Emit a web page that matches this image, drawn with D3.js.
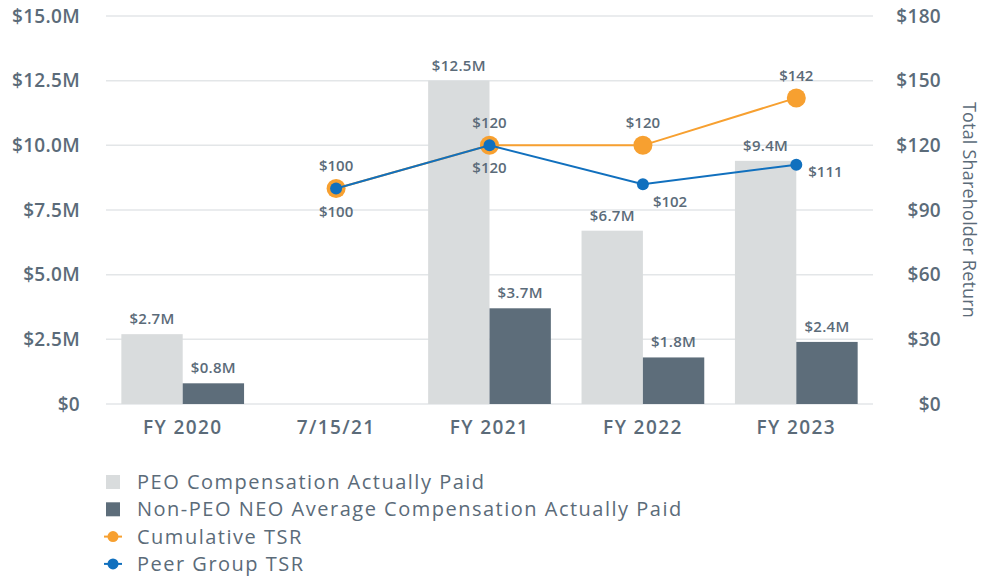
<!DOCTYPE html>
<html>
<head>
<meta charset="utf-8">
<script src="https://cdn.jsdelivr.net/npm/d3@7.9.0/dist/d3.min.js"></script>
<style>
  body { margin: 0; background: #fff; }
  svg text { font-family: "Open Sans", sans-serif; fill: #5b6b79; }
</style>
</head>
<body>
<div id="chart"></div>
<script>
const categories = ['FY 2020', '7/15/21', 'FY 2021', 'FY 2022', 'FY 2023'];
const peoComp = [2.7, null, 12.5, 6.7, 9.4];
const neoComp = [0.8, null, 3.7, 1.8, 2.4];
const cumulativeTsr = [null, 100, 120, 120, 142];
const peerTsr = [null, 100, 120, 102, 111];
const leftTicks = [0, 2.5, 5, 7.5, 10, 12.5, 15];
const rightTicks = [0, 30, 60, 90, 120, 150, 180];

const width = 985;
const height = 580;
const margin = { top: 16, right: 112, bottom: 176, left: 106 };

const svg = d3.select('#chart')
  .append('svg')
  .attr('width', width)
  .attr('height', height);

const x = d3.scaleBand()
  .domain(categories)
  .range([margin.left, width - margin.right])
  .paddingInner(0.2)
  .paddingOuter(0.1);

const xSub = d3.scaleBand()
  .domain(['peo', 'neo'])
  .range([0, x.bandwidth()]);

const y = d3.scaleLinear()
  .domain([0, 15])
  .range([height - margin.bottom, margin.top]);

const y2 = d3.scaleLinear()
  .domain([0, 180])
  .range([height - margin.bottom, margin.top]);

const center = c => x(c) + x.bandwidth() / 2;

// gridlines
svg.append('g')
  .selectAll('line')
  .data(leftTicks)
  .join('line')
  .attr('x1', margin.left)
  .attr('x2', width - margin.right)
  .attr('y1', d => y(d))
  .attr('y2', d => y(d))
  .attr('stroke', '#e3e6e8')
  .attr('stroke-width', 1.5);

// left axis
const fmtM = d => d === 0 ? '$0' : `$${d.toFixed(1)}M`;
svg.append('g')
  .attr('transform', `translate(${margin.left - 26},0)`)
  .call(d3.axisLeft(y).tickValues(leftTicks).tickFormat(fmtM).tickSize(0).tickPadding(0))
  .call(g => g.select('.domain').remove())
  .selectAll('text')
  .style('font-size', '19px')
  .style('font-weight', 600)
  .style('letter-spacing', '0.3px');

// right axis
svg.append('g')
  .attr('transform', `translate(${width - 44},0)`)
  .call(d3.axisLeft(y2).tickValues(rightTicks).tickFormat(d => `$${d}`).tickSize(0).tickPadding(0))
  .call(g => g.select('.domain').remove())
  .selectAll('text')
  .style('font-size', '19px')
  .style('font-weight', 600)
  .style('letter-spacing', '0.3px');

svg.append('text')
  .attr('transform', `translate(963,${(margin.top + height - margin.bottom) / 2}) rotate(90)`)
  .attr('text-anchor', 'middle')
  .style('font-size', '18px')
  .style('letter-spacing', '0.2px')
  .text('Total Shareholder Return');

// bottom axis
svg.append('g')
  .attr('transform', `translate(0,${height - margin.bottom})`)
  .call(d3.axisBottom(x).tickSize(0).tickPadding(17))
  .call(g => g.select('.domain').remove())
  .selectAll('text')
  .style('font-size', '19px')
  .style('font-weight', 600)
  .style('letter-spacing', '1.4px');

// bars
const barData = categories.map((c, i) => ({ c, peo: peoComp[i], neo: neoComp[i] }))
  .filter(d => d.peo !== null);

const groups = svg.append('g')
  .selectAll('g')
  .data(barData)
  .join('g')
  .attr('transform', d => `translate(${x(d.c)},0)`);

groups.append('rect')
  .attr('x', xSub('peo'))
  .attr('width', xSub.bandwidth())
  .attr('y', d => y(d.peo))
  .attr('height', d => y(0) - y(d.peo))
  .attr('fill', '#d9dcdd');

groups.append('rect')
  .attr('x', xSub('neo'))
  .attr('width', xSub.bandwidth())
  .attr('y', d => y(d.neo))
  .attr('height', d => y(0) - y(d.neo))
  .attr('fill', '#5d6d7a');

groups.append('text')
  .attr('x', xSub('peo') + xSub.bandwidth() / 2)
  .attr('y', d => y(d.peo) - 10)
  .attr('text-anchor', 'middle')
  .style('font-size', '15px')
  .style('font-weight', 600)
  .style('letter-spacing', '0.3px')
  .text(d => `$${d.peo.toFixed(1)}M`);

groups.append('text')
  .attr('x', xSub('neo') + xSub.bandwidth() / 2)
  .attr('y', d => y(d.neo) - 10)
  .attr('text-anchor', 'middle')
  .style('font-size', '15px')
  .style('font-weight', 600)
  .style('letter-spacing', '0.3px')
  .text(d => `$${d.neo.toFixed(1)}M`);

// lines
const cumData = categories.map((c, i) => ({ c, v: cumulativeTsr[i] })).filter(d => d.v !== null);
const peerData = categories.map((c, i) => ({ c, v: peerTsr[i] })).filter(d => d.v !== null);

const line = d3.line()
  .x(d => center(d.c))
  .y(d => y2(d.v));

svg.append('path')
  .datum(cumData)
  .attr('fill', 'none')
  .attr('stroke', '#f7a030')
  .attr('stroke-width', 2)
  .attr('d', line);

svg.append('g')
  .selectAll('circle')
  .data(cumData)
  .join('circle')
  .attr('cx', d => center(d.c))
  .attr('cy', d => y2(d.v))
  .attr('r', 9.5)
  .attr('fill', '#f7a030');

svg.append('path')
  .datum(peerData)
  .attr('fill', 'none')
  .attr('stroke', '#1170be')
  .attr('stroke-width', 2)
  .attr('d', line);

svg.append('g')
  .selectAll('circle')
  .data(peerData)
  .join('circle')
  .attr('cx', d => center(d.c))
  .attr('cy', d => y2(d.v))
  .attr('r', 6)
  .attr('fill', '#1170be');

// line labels
svg.append('g')
  .selectAll('text')
  .data(cumData)
  .join('text')
  .attr('x', d => center(d.c))
  .attr('y', d => y2(d.v) - 17)
  .attr('text-anchor', 'middle')
  .style('font-size', '15px')
  .style('font-weight', 600)
  .text(d => `$${d.v}`);

const peerOffsets = { '7/15/21': [0, 29, 'middle'], 'FY 2021': [0, 28, 'middle'], 'FY 2022': [10, 23, 'start'], 'FY 2023': [12, 12, 'start'] };
svg.append('g')
  .selectAll('text')
  .data(peerData)
  .join('text')
  .attr('x', d => center(d.c) + peerOffsets[d.c][0])
  .attr('y', d => y2(d.v) + peerOffsets[d.c][1])
  .attr('text-anchor', d => peerOffsets[d.c][2])
  .style('font-size', '15px')
  .style('font-weight', 600)
  .text(d => `$${d.v}`);

// legend
const legendItems = [
  { label: 'PEO Compensation Actually Paid', type: 'rect', color: '#d9dcdd' },
  { label: 'Non-PEO NEO Average Compensation Actually Paid', type: 'rect', color: '#5d6d7a' },
  { label: 'Cumulative TSR', type: 'line', color: '#f7a030' },
  { label: 'Peer Group TSR', type: 'line', color: '#1170be' }
];

const legend = svg.append('g')
  .selectAll('g')
  .data(legendItems)
  .join('g')
  .attr('transform', (d, i) => `translate(104,${482 + i * 27.3})`);

legend.filter(d => d.type === 'rect')
  .append('rect')
  .attr('x', 2)
  .attr('y', -7)
  .attr('width', 14)
  .attr('height', 14)
  .attr('fill', d => d.color);

legend.filter(d => d.type === 'line')
  .append('line')
  .attr('x1', 0)
  .attr('x2', 18)
  .attr('stroke', d => d.color)
  .attr('stroke-width', 2);

legend.filter(d => d.type === 'line')
  .append('circle')
  .attr('cx', 9)
  .attr('r', 5.5)
  .attr('fill', d => d.color);

legend.append('text')
  .attr('x', 33)
  .attr('dy', '0.35em')
  .style('font-size', '20px')
  .style('letter-spacing', '1.5px')
  .text(d => d.label);
</script>
</body>
</html>
